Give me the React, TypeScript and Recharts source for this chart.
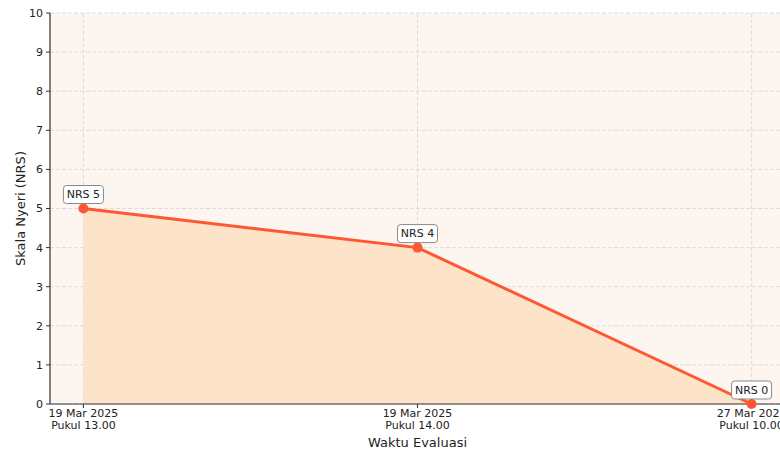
import React from 'react';
import { AreaChart, Area, XAxis, YAxis, CartesianGrid, LabelList } from 'recharts';

const categories = ['19 Mar 2025\nPukul 13.00', '19 Mar 2025\nPukul 14.00', '27 Mar 2025\nPukul 10.00'];
const nrsValues = [5, 4, 0];
const yTicks = [0, 1, 2, 3, 4, 5, 6, 7, 8, 9, 10];
const pointLabels = ['NRS 5', 'NRS 4', 'NRS 0'];

const data = categories.map((c, i) => ({ idx: i, value: nrsValues[i], label: pointLabels[i] }));

const FONT = '"DejaVu Sans", sans-serif';
const LINE = '#FF5733';

const XTick = (props: any) => {
  const { x, y, payload } = props;
  const lines = categories[payload.value]?.split('\n') ?? [];
  return (
    <text x={x} y={y} textAnchor="middle" fontFamily={FONT} fontSize={11} fill="#222">
      {lines.map((l: string, i: number) => (
        <tspan key={i} x={x} y={y + 7 + i * 12}>{l}</tspan>
      ))}
    </text>
  );
};

const PointLabel = (props: any) => {
  const { x, y, value } = props;
  const w = 40;
  const h = 18;
  const cy = y - 14;
  return (
    <g>
      <rect x={x - w / 2} y={cy - h / 2} width={w} height={h} rx={3} ry={3} fill="#ffffff" stroke="#888" strokeWidth={1} />
      <text x={x} y={cy} textAnchor="middle" dominantBaseline="central" fontFamily={FONT} fontSize={11} fill="#222">{value}</text>
    </g>
  );
};

export default function App() {
  return (
    <div style={{ position: 'absolute', left: 0, top: 0, width: 780, height: 451, overflow: 'hidden', background: '#fff' }}>
      <AreaChart width={800} height={451} data={data} margin={{ top: 13, right: 15, bottom: 0, left: 0 }}>
        <CartesianGrid fill="#FDF5EF" fillOpacity={1} stroke="#d6d6d6" strokeDasharray="4 2" strokeWidth={0.8} />
        <XAxis
          dataKey="idx"
          type="number"
          domain={[-0.1, 2.1]}
          ticks={[0, 1, 2]}
          height={47}
          tick={<XTick />}
          tickSize={4}
          tickMargin={2}
          axisLine={{ stroke: '#333', strokeWidth: 1.2 }}
          tickLine={{ stroke: '#333' }}
          interval={0}
          allowDataOverflow
          label={{
            content: (p: any) => (
              <text x={417.5} y={442} textAnchor="middle" dominantBaseline="central" fontFamily={FONT} fontSize={13} fill="#222">Waktu Evaluasi</text>
            ),
          }}
        />
        <YAxis
          type="number"
          domain={[0, 10]}
          ticks={yTicks}
          width={50}
          tickSize={4}
          tickMargin={3}
          tick={{ fontFamily: FONT, fontSize: 11, fill: '#222' }}
          axisLine={{ stroke: '#333', strokeWidth: 1.2 }}
          tickLine={{ stroke: '#333' }}
          interval={0}
          label={{
            content: (p: any) => (
              <text x={20} y={208.5} textAnchor="middle" dominantBaseline="central" transform="rotate(-90 20 208.5)" fontFamily={FONT} fontSize={13} fill="#222">Skala Nyeri (NRS)</text>
            ),
          }}
        />
        <Area
          type="linear"
          dataKey="value"
          stroke={LINE}
          strokeWidth={3}
          fill="#FDE3C7"
          fillOpacity={1}
          dot={{ r: 5, fill: LINE, stroke: LINE, strokeWidth: 0, fillOpacity: 1 }}
          activeDot={false}
          isAnimationActive={false}
        >
          <LabelList dataKey="label" content={<PointLabel />} />
        </Area>
      </AreaChart>
    </div>
  );
}
